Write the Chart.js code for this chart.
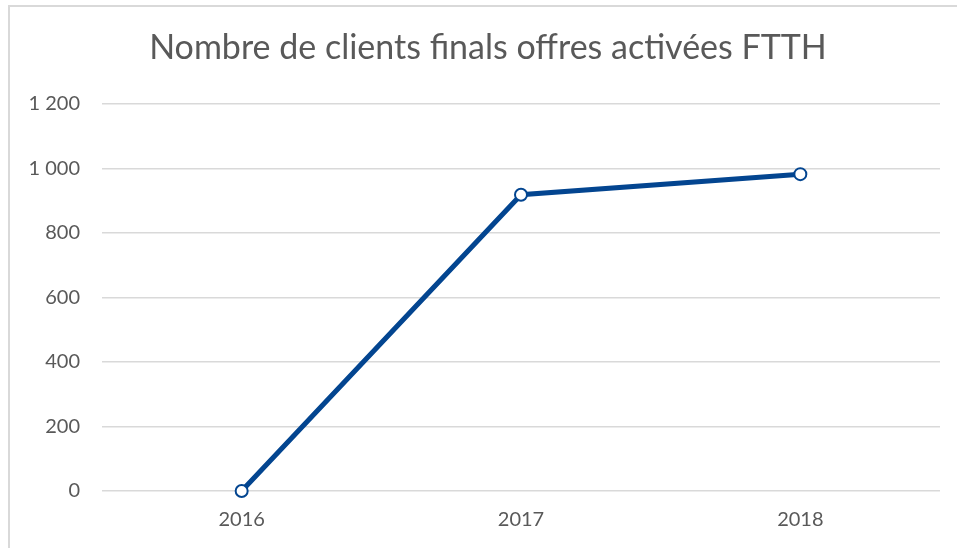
<!DOCTYPE html>
<html>
<head>
<meta charset="utf-8">
<script src="https://cdn.jsdelivr.net/npm/chart.js@4"></script>
<style>
    html, body { margin: 0; padding: 0; background: #fff; overflow: hidden; }
    #wrap { position: relative; width: 957px; height: 548px; }
    #frame { position: absolute; left: 8px; top: 5px; right: -5px; bottom: -5px; border-left: 2px solid #d9d9d9; border-top: 2px solid #d9d9d9; }
    canvas { position: absolute; left: 0; top: 0; }
</style>
</head>
<body>
<div id="wrap">
    <div id="frame"></div>
    <canvas id="chart" width="957" height="548"></canvas>
</div>
<script>
    const years = ['2016', '2017', '2018'];
    const clients = [0, 918, 982];
    const yTicks = [0, 200, 400, 600, 800, 1000, 1200];

    const lineBlue = '#034590';
    const textGrey = '#595959';
    const fontFamily = 'Lato, "Open Sans", sans-serif';

    function formatNumber(v) {
        return String(v).replace(/\B(?=(\d{3})+(?!\d))/g, ' ');
    }

    // nudge the title a bit to the right, it is centred on the frame in the original
    const shiftTitle = {
        id: 'shiftTitle',
        afterLayout(chart) {
            if (chart.titleBlock) {
                chart.titleBlock.left += 18;
                chart.titleBlock.right += 18;
            }
        }
    };

    const ctx = document.getElementById('chart').getContext('2d');
    new Chart(ctx, {
        type: 'line',
        data: {
            labels: years,
            datasets: [{
                label: 'Clients FTTH',
                data: clients,
                borderColor: lineBlue,
                borderWidth: 5,
                pointRadius: 6,
                pointBorderWidth: 2,
                pointBackgroundColor: '#ffffff',
                pointBorderColor: lineBlue,
                tension: 0,
                clip: false
            }]
        },
        options: {
            responsive: false,
            animation: false,
            layout: { padding: { left: 0, right: 17, bottom: 0, top: 0 } },
            plugins: {
                legend: { display: false },
                tooltip: { enabled: false },
                title: {
                    display: true,
                    text: 'Nombre de clients finals offres activées FTTH',
                    color: textGrey,
                    font: { family: fontFamily, size: 34, weight: 'normal' },
                    padding: { top: 28, bottom: 35 }
                }
            },
            scales: {
                x: {
                    offset: true,
                    grid: { display: false, drawTicks: false },
                    border: { display: false },
                    ticks: { color: textGrey, font: { family: fontFamily, size: 20 }, padding: 17 },
                    afterFit: (scale) => { scale.height = 57; }
                },
                y: {
                    min: 0,
                    max: 1200,
                    afterBuildTicks: (scale) => { scale.ticks = yTicks.map(v => ({ value: v })); },
                    grid: { color: '#d9d9d9', lineWidth: 1.5, drawTicks: false },
                    border: { display: false },
                    ticks: {
                        color: textGrey,
                        font: { family: fontFamily, size: 20 },
                        padding: 22,
                        callback: (v) => formatNumber(v)
                    },
                    afterFit: (scale) => { scale.width = 102; }
                }
            }
        },
        plugins: [shiftTitle]
    });
</script>
</body>
</html>
